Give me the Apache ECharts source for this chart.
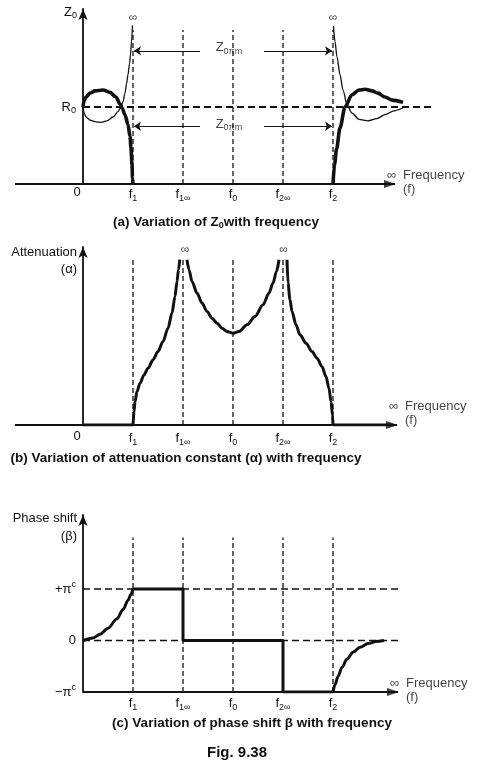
<!DOCTYPE html>
<html><head><meta charset="utf-8">
<script src="https://cdn.jsdelivr.net/npm/echarts@6/dist/echarts.min.js"></script>
<style>html,body{margin:0;padding:0;background:#fff}#c{width:477px;height:770px}</style>
</head><body><div id="c"></div>
<script>
// ---------- shared axis ticks ----------
const freqTicks = [0, 1, 2, 3, 4, 5];
const freqNames = ['0', 'f1', 'f1∞', 'f0', 'f2∞', 'f2'];
const guideFreqs = [1, 2, 3, 4, 5];

// ---------- panel (a): Z0 vs frequency ----------
const zAxisSpan = [[-1.36, 0], [6.24, 0]];
const zR0Line = [[0, 1], [7.02, 1]];
const zGuideRange = [0, 2.0];
const zThickLow = [[0,1.0],[0.02,1.08],[0.06,1.13],[0.14,1.18],[0.24,1.21],[0.4,1.22],[0.54,1.19],[0.66,1.13],[0.74,1.04],[0.78,0.99],[0.84,0.9],[0.9,0.77],[0.94,0.62],[0.96,0.47],[0.98,0.25],[0.99,0.08],[1.0,0]];
const zThinLow = [[0,1.0],[0.02,0.93],[0.06,0.87],[0.14,0.83],[0.24,0.81],[0.36,0.8],[0.48,0.82],[0.6,0.87],[0.7,0.94],[0.76,1.0],[0.8,1.07],[0.84,1.18],[0.87,1.3],[0.9,1.42],[0.93,1.56],[0.95,1.68],[0.97,1.85],[0.99,2.06]];
const zThickHigh = [[5.0,0],[5.03,0.25],[5.07,0.45],[5.14,0.73],[5.24,1.0],[5.38,1.16],[5.52,1.22],[5.64,1.23],[5.78,1.21],[5.9,1.18],[6.04,1.13],[6.18,1.09],[6.4,1.06]];
const zThinHigh = [[5.01,2.05],[5.04,1.85],[5.08,1.65],[5.14,1.42],[5.2,1.22],[5.28,1.03],[5.38,0.92],[5.52,0.84],[5.7,0.82],[5.88,0.85],[6.04,0.9],[6.22,0.95],[6.4,0.99]];
const zArrowLevels = [1.73, 0.75];
const zArrowSpans = [[2.34, 1.02], [3.62, 4.98]];
const zSpanLabels = [[2.92, 1.77], [2.92, 0.78]];
const zInfinity = [[1, 2.16], [5, 2.16]];

// ---------- panel (b): attenuation ----------
const attAxisSpan = [[-1.36, 0], [6.28, 0]];
const attZeroLow = [[0, 0], [1, 0]];
const attZeroHigh = [[5, 0], [6.2, 0]];
const attRise = [[1.0,0],[1.02,0.08],[1.04,0.14],[1.08,0.2],[1.14,0.25],[1.22,0.3],[1.3,0.34],[1.4,0.39],[1.5,0.44],[1.6,0.5],[1.7,0.58],[1.78,0.67],[1.84,0.77],[1.88,0.86],[1.91,0.93],[1.935,0.99]];
const attDip = [[2.08,0.99],[2.12,0.93],[2.18,0.86],[2.28,0.79],[2.38,0.73],[2.48,0.68],[2.58,0.64],[2.68,0.61],[2.78,0.58],[2.88,0.56],[3.0,0.55],[3.12,0.56],[3.28,0.6],[3.44,0.65],[3.6,0.72],[3.72,0.79],[3.8,0.85],[3.87,0.92],[3.92,0.99]];
const attFall = [[4.08,0.99],[4.1,0.85],[4.14,0.75],[4.18,0.68],[4.26,0.6],[4.34,0.54],[4.46,0.49],[4.58,0.44],[4.68,0.4],[4.78,0.35],[4.86,0.29],[4.92,0.22],[4.96,0.14],[4.99,0.06],[5.0,0]];
const attGuideRange = [0, 1.0];
const attInfinity = [[2.04, 1.05], [4.01, 1.05]];

// ---------- panel (c): phase shift ----------
const phaseAxisSpan = [[0, -1], [6.3, -1]];
const phaseRise = [[0,0],[0.2,0.05],[0.34,0.12],[0.5,0.24],[0.68,0.42],[0.8,0.6],[0.9,0.78],[0.96,0.9],[1.0,1.0]];
const phaseSteps = [[1,1],[2,1],[2,0],[4,0],[4,-1],[5,-1]];
const phaseSettle = [[5.0,-1],[5.04,-0.86],[5.1,-0.7],[5.18,-0.52],[5.28,-0.36],[5.4,-0.23],[5.54,-0.13],[5.7,-0.06],[5.86,-0.02],[6.02,0]];
const phaseGuideRange = [-1, 2.0];
const phaseLevels = [1, 0];
const phaseLevelEnd = 6.38;
const phaseTicks = [-1, 0, 1];
const phaseTickNames = ['−π', '0', '+π'];

// ---------- styling ----------
const FONT = '"Liberation Sans", Arial, sans-serif';
const INK = '#111';
const richBase = {
  m: {fontSize: 13, fontFamily: FONT, color: INK},
  s: {fontSize: 9, fontFamily: FONT, color: INK, padding: [8, 0, 0, 0]},
  p: {fontSize: 9, fontFamily: FONT, color: INK, padding: [0, 0, 9, 0]},
  z: {fontSize: 13, fontFamily: FONT, color: INK, padding: [0, 12, 0, 0]}
};
const nameRich = {
  i: {fontSize: 13, width: 16, fontFamily: FONT, color: INK, lineHeight: 14},
  t: {fontSize: 13, fontFamily: FONT, color: INK, lineHeight: 14},
  f: {fontSize: 13, fontFamily: FONT, color: INK, lineHeight: 14, padding: [0, 0, 0, 16]}
};
const ARROW_RIGHT = 'path://M0,0 L12,4 L0,8 Z';
function freqFmt(v) {
  const n = freqNames[freqTicks.indexOf(v)];
  if (n === '0') return '{z|0}';
  return '{m|f}{s|' + n.slice(1) + '}';
}
function phaseFmt(v) {
  const n = phaseTickNames[phaseTicks.indexOf(v)];
  return n === '0' ? '{m|0}' : '{m|' + n + '}{p|c}';
}
function xAxisCfg(g, min, max, ticks, margin) {
  return {
    type: 'value', gridIndex: g, min: min, max: max,
    axisLine: {show: false, onZero: false},
    axisTick: {show: false}, splitLine: {show: false},
    axisLabel: {customValues: ticks, formatter: freqFmt, margin: margin, rich: richBase}
  };
}
function yAxisCfg(g, min, max, offset, name, nameGap, vAlign, lh, labelCfg) {
  return {
    type: 'value', gridIndex: g, min: min, max: max, offset: offset,
    axisLine: {onZero: false, lineStyle: {color: INK, width: 1.8}, symbol: ['none', 'arrow'], symbolSize: [7, 11]},
    axisTick: {show: false}, splitLine: {show: false},
    axisLabel: labelCfg,
    name: name, nameLocation: 'end', nameGap: nameGap,
    nameTextStyle: {align: 'right', verticalAlign: vAlign, lineHeight: lh, padding: [0, 6, 0, 0],
      fontSize: 13, fontFamily: FONT, color: INK, rich: richBase}
  };
}
function line(g, data, width, dash, smooth) {
  return {type: 'line', xAxisIndex: g, yAxisIndex: g, data: data, symbol: 'none', showSymbol: false,
    smooth: smooth ? 0.3 : false, smoothMonotone: smooth ? 'x' : undefined, silent: true,
    lineStyle: {color: INK, width: width, type: dash || 'solid'}, z: dash ? 2 : 5};
}
function guides(g, xs, range) {
  return xs.map(x => line(g, [[x, range[0]], [x, range[1]]], 1.3, [5, 3], false));
}
function texts(g, pts, label) {
  return {type: 'scatter', xAxisIndex: g, yAxisIndex: g, data: pts, symbolSize: 1, silent: true,
    itemStyle: {color: 'rgba(0,0,0,0)'},
    label: Object.assign({show: true, position: 'inside', color: INK, fontFamily: FONT}, label), z: 6};
}
function freqAxis(g, span, padBottom) {
  const ax = line(g, span, 1.8, null, false);
  ax.z = 7;
  return [
    ax,
    {type: 'scatter', xAxisIndex: g, yAxisIndex: g, data: [span[1]], silent: true, z: 8,
      symbol: ARROW_RIGHT, symbolSize: [12, 8], symbolOffset: [-5, 0], itemStyle: {color: INK}},
    texts(g, [span[1]], {formatter: '{i|∞}{t|Frequency}\n{f|(f)}', align: 'left', verticalAlign: 'middle',
      offset: [-8, 0], lineHeight: 14, padding: [0, 0, padBottom, 0], rich: nameRich})
  ];
}

const series = [];
// (a)
series.push(...freqAxis(0, zAxisSpan, 4));
series.push(...guides(0, guideFreqs, zGuideRange));
series.push(line(0, zR0Line, 1.8, [7, 4], false));
series.push(line(0, zThickLow, 3.6, null, true));
series.push(line(0, zThinLow, 1.3, null, true));
series.push(line(0, zThickHigh, 3.6, null, true));
series.push(line(0, zThinHigh, 1.3, null, true));
series.push({type: 'lines', coordinateSystem: 'cartesian2d', xAxisIndex: 0, yAxisIndex: 0, silent: true,
  symbol: ['none', 'arrow'], symbolSize: 7, lineStyle: {color: INK, width: 1.2, opacity: 1}, z: 4,
  data: zArrowLevels.flatMap(y => zArrowSpans.map(s => ({coords: [[s[0], y], [s[1], y]]})))});
series.push(texts(0, zSpanLabels, {formatter: '{m|Z}{s|0πm}', rich: richBase}));
series.push(texts(0, zInfinity, {formatter: '∞', fontSize: 12}));
// (b)
series.push(...freqAxis(1, attAxisSpan, 24));
series.push(...guides(1, guideFreqs, attGuideRange));
series.push(line(1, attZeroLow, 3, null, false));
series.push(line(1, attZeroHigh, 3, null, false));
series.push(line(1, attRise, 3, null, true));
series.push(line(1, attDip, 3, null, true));
series.push(line(1, attFall, 3, null, true));
series.push(texts(1, attInfinity, {formatter: '∞', fontSize: 12}));
// (c)
series.push(...freqAxis(2, phaseAxisSpan, 3));
series.push(...guides(2, guideFreqs, phaseGuideRange));
phaseLevels.forEach(v => series.push(line(2, [[0, v], [phaseLevelEnd, v]], 1.5, [7, 4], false)));
series.push(line(2, phaseRise, 3, null, true));
series.push(line(2, phaseSteps, 3, null, false));
series.push(line(2, phaseSettle, 3, null, true));

const cap = (x, y, text, size) => ({type: 'text', x: x, y: y, silent: true,
  style: {text: text, align: 'center', verticalAlign: 'middle', fill: INK, fontFamily: FONT, fontWeight: 'bold', fontSize: size || 13.5,
    rich: {u: {fontSize: 9, fontWeight: 'bold', fontFamily: FONT, fill: INK, padding: [8, 0, 0, 0]}}}});

const option = {
  animation: false,
  backgroundColor: '#fff',
  textStyle: {fontFamily: FONT},
  grid: [
    {left: 15, width: 423, top: 9, height: 175, outerBoundsMode: 'none', containLabel: false},
    {left: 15, width: 388, top: 247, height: 178, outerBoundsMode: 'none', containLabel: false},
    {left: 83, width: 320, top: 515, height: 177, outerBoundsMode: 'none', containLabel: false}
  ],
  xAxis: [
    xAxisCfg(0, -1.36, 7.1, freqTicks, 2),
    xAxisCfg(1, -1.36, 6.4, freqTicks, 5),
    xAxisCfg(2, 0, 6.4, guideFreqs, 3)
  ],
  yAxis: [
    yAxisCfg(0, 0, 2.273, -68, '{m|Z}{s|0}', -3, 'middle', 16,
      {customValues: [1], formatter: () => '{m|R}{s|0}', margin: 7, rich: richBase}),
    yAxisCfg(1, 0, 1.066, -68, 'Attenuation\n(α)', 3.5, 'top', 17, {show: false}),
    yAxisCfg(2, -1, 2.437, 0, 'Phase shift\n(β)', 6, 'top', 18,
      {customValues: phaseTicks, formatter: phaseFmt, margin: 7, rich: richBase})
  ],
  series: series,
  graphic: [
    cap(216, 222, '(a) Variation of Z{u|0}with frequency'),
    cap(186, 458, '(b) Variation of attenuation constant (α) with frequency'),
    cap(252, 723, '(c) Variation of phase shift β with frequency'),
    cap(237, 753, 'Fig. 9.38', 15)
  ]
};
echarts.init(document.getElementById('c'), null, {renderer: 'canvas'}).setOption(option);
</script>
</body></html>
